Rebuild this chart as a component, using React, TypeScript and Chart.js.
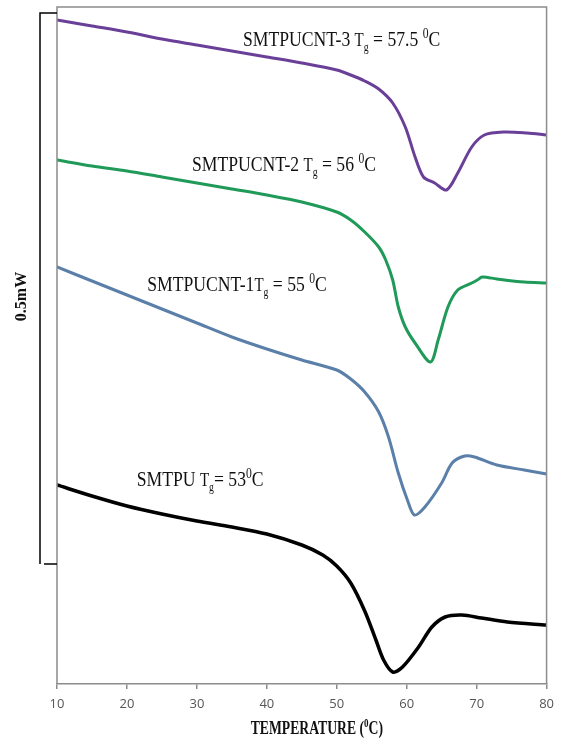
import React, { useEffect, useRef } from 'react';
import { Chart, registerables } from 'chart.js';

Chart.register(...registerables);

// Temperature axis (°C)
const tempMin = 10;
const tempMax = 80;
const tempStep = 10;

// Heat flow (arbitrary offset units, curves shifted vertically as in the figure)
const heatMin = 0;
const heatMax = 677;

// SMTPUCNT-3 (purple)
const cnt3Temp = [10, 15, 20, 25, 30, 35, 40, 45, 50, 52, 54, 56, 58.0, 59.8, 61.2, 62.4, 64.0, 65.7, 67.3, 69.3, 71.1, 73.9, 77.2, 80.0];
const cnt3Heat = [664, 658, 652, 645, 639, 633, 627, 621, 614, 609, 603, 595, 581, 557, 527, 507, 501, 494, 511, 537, 549, 552, 551, 549];

// SMTPUCNT-2 (green)
const cnt2Temp = [10, 15, 20, 25, 30, 35, 40, 45, 50, 52, 54, 56, 57.0, 58.0, 58.8, 59.8, 61.2, 63.4, 64.5, 65.9, 67.3, 69.3, 70.1, 70.8, 72.9, 76.8, 80.0];
const cnt2Heat = [524, 518, 513, 507, 501, 495, 489, 482, 472, 464, 452, 437, 424, 404, 377, 357, 341, 322, 344, 377, 394, 401, 404, 407, 405, 402, 401];

// SMTPUCNT-1 (blue)
const cnt1Temp = [10, 15, 20, 25, 30, 35, 40, 45, 50, 52, 54, 56, 57.4, 58.8, 60.1, 61.1, 62.6, 65.0, 66.5, 68.3, 69.7, 72.9, 76.8, 80.0];
const cnt1Heat = [417, 403, 389, 375, 361, 347, 335, 324, 314, 305, 292, 272, 247, 211, 184, 169, 177, 201, 221, 228, 227, 219, 214, 210];

// SMTPU (black)
const puTemp = [10, 15, 20, 25, 30, 35, 40, 45, 48, 50, 52, 54, 55.6, 56.7, 58.0, 59.4, 61.7, 63.6, 65.5, 67.9, 70.7, 74.4, 80.0];
const puHeat = [199, 188, 178, 170, 163, 157, 150, 139, 129, 118, 101, 73, 44, 24, 12, 17, 37, 57, 67, 69, 66, 62, 59];

// Scale bar: 0.5 mW span in heat-flow units
const scaleBarTop = 671;
const scaleBarBottom = 120;
const scaleBarLabel = '0.5mW';

const xTitleMain = 'TEMPERATURE (';
const xTitleSup = '0';
const xTitleEnd = 'C)';

type Part = { t: string; k?: 'sub' | 'sup' | 'tg' };

const labelParts: Part[][] = [
  [{ t: 'SMTPUCNT-3 ' }, { t: 'T', k: 'tg' }, { t: 'g', k: 'sub' }, { t: ' = 57.5 ' }, { t: '0', k: 'sup' }, { t: 'C' }],
  [{ t: 'SMTPUCNT-2 ' }, { t: 'T', k: 'tg' }, { t: 'g', k: 'sub' }, { t: ' = 56 ' }, { t: '0', k: 'sup' }, { t: 'C' }],
  [{ t: 'SMTPUCNT-1' }, { t: 'T', k: 'tg' }, { t: 'g', k: 'sub' }, { t: ' = 55 ' }, { t: '0', k: 'sup' }, { t: 'C' }],
  [{ t: 'SMTPU ' }, { t: 'T', k: 'tg' }, { t: 'g', k: 'sub' }, { t: '= 53' }, { t: '0', k: 'sup' }, { t: 'C' }],
];
// anchor (temperature, heat-flow baseline) for each label
const labelAnchors = [
  { x: 36.6, y: 638 },
  { x: 29.3, y: 513 },
  { x: 22.9, y: 393 },
  { x: 21.4, y: 198 },
];

function drawRich(ctx: CanvasRenderingContext2D, x: number, y: number, parts: Part[], base: number, squeeze: number, bold = false) {
  ctx.save();
  ctx.translate(x, y);
  ctx.scale(squeeze, 1);
  ctx.textBaseline = 'alphabetic';
  ctx.textAlign = 'left';
  ctx.fillStyle = '#111';
  let cx = 0;
  for (const p of parts) {
    let size = base;
    let dy = 0;
    if (p.k === 'sub') { size = base * 0.55; dy = base * 0.25; }
    else if (p.k === 'sup') { size = base * 0.66; dy = -base * 0.36; }
    else if (p.k === 'tg') { size = base * 0.85; }
    ctx.font = `${bold ? 'bold ' : ''}${size}px "Liberation Serif", "Times New Roman", serif`;
    ctx.fillText(p.t, cx, dy);
    cx += ctx.measureText(p.t).width;
  }
  ctx.restore();
}

function measureRich(ctx: CanvasRenderingContext2D, parts: Part[], base: number, squeeze: number, bold = false) {
  ctx.save();
  let w = 0;
  for (const p of parts) {
    let size = base;
    if (p.k === 'sub') size = base * 0.55;
    else if (p.k === 'sup') size = base * 0.66;
    else if (p.k === 'tg') size = base * 0.85;
    ctx.font = `${bold ? 'bold ' : ''}${size}px "Liberation Serif", "Times New Roman", serif`;
    w += ctx.measureText(p.t).width;
  }
  ctx.restore();
  return w * squeeze;
}

const decorPlugin = {
  id: 'decor',
  afterDraw(chart: any) {
    const ctx: CanvasRenderingContext2D = chart.ctx;
    const { left, right, top, bottom } = chart.chartArea;
    const xs = chart.scales.x;
    const ys = chart.scales.y;
    ctx.save();
    // frame
    ctx.strokeStyle = '#8c8c8c';
    ctx.lineWidth = 1.5;
    ctx.beginPath();
    ctx.moveTo(left, bottom);
    ctx.lineTo(left, top);
    ctx.lineTo(right, top);
    ctx.lineTo(right, bottom);
    ctx.stroke();

    // scale bar
    const barX = left - 17;
    const yTop = ys.getPixelForValue(scaleBarTop);
    const yBot = ys.getPixelForValue(scaleBarBottom);
    ctx.strokeStyle = '#000';
    ctx.lineWidth = 1.5;
    ctx.beginPath();
    ctx.moveTo(left, yTop);
    ctx.lineTo(barX, yTop);
    ctx.lineTo(barX, yBot);
    ctx.moveTo(barX + 4, yBot);
    ctx.lineTo(left, yBot);
    ctx.stroke();

    ctx.save();
    ctx.translate(22, (yTop + yBot) / 2 + 8);
    ctx.rotate(-Math.PI / 2);
    ctx.font = 'bold 16px "Liberation Serif", "Times New Roman", serif';
    ctx.fillStyle = '#111';
    ctx.textAlign = 'center';
    ctx.textBaseline = 'middle';
    ctx.fillText(scaleBarLabel, 0, 0);
    ctx.restore();

    // curve labels
    labelParts.forEach((parts, i) => {
      const a = labelAnchors[i];
      drawRich(ctx, xs.getPixelForValue(a.x), ys.getPixelForValue(a.y), parts, 21, 0.84);
    });

    // x-axis title
    const titleParts: Part[] = [{ t: xTitleMain }, { t: xTitleSup, k: 'sup' }, { t: xTitleEnd }];
    const tw = measureRich(ctx, titleParts, 19, 0.72, true);
    const cxm = (left + right) / 2 + 15;
    drawRich(ctx, cxm - tw / 2, bottom + 50, titleParts, 19, 0.72, true);
    ctx.restore();
  },
};

export default function App() {
  const ref = useRef<HTMLCanvasElement | null>(null);

  useEffect(() => {
    if (!ref.current) return;
    const mk = (t: number[], h: number[]) => t.map((x, i) => ({ x, y: h[i] }));
    const common = {
      pointRadius: 0,
      tension: 0.3,
      fill: false,
      borderCapStyle: 'round' as const,
      borderJoinStyle: 'round' as const,
    };
    const chart = new Chart(ref.current, {
      type: 'line',
      data: {
        datasets: [
          { ...common, label: 'SMTPUCNT-3', data: mk(cnt3Temp, cnt3Heat), borderColor: '#6a3f98', borderWidth: 3 },
          { ...common, label: 'SMTPUCNT-2', data: mk(cnt2Temp, cnt2Heat), borderColor: '#1f9a58', borderWidth: 3 },
          { ...common, label: 'SMTPUCNT-1', data: mk(cnt1Temp, cnt1Heat), borderColor: '#5a7fa8', borderWidth: 3 },
          { ...common, label: 'SMTPU', data: mk(puTemp, puHeat), borderColor: '#000000', borderWidth: 3.5 },
        ],
      },
      options: {
        animation: false,
        responsive: true,
        maintainAspectRatio: false,
        layout: { padding: { left: 57, right: 8, top: 7, bottom: 0 } },
        plugins: { legend: { display: false }, tooltip: { enabled: false } },
        scales: {
          x: {
            type: 'linear',
            min: tempMin,
            max: tempMax,
            afterFit: (s: any) => { s.height = 63; },
            ticks: {
              stepSize: tempStep,
              padding: 7,
              color: '#555',
              font: { family: '"Open Sans", "Liberation Sans", sans-serif', size: 13 },
            },
            grid: { drawOnChartArea: false, drawTicks: true, tickLength: 5, color: '#8c8c8c', lineWidth: 1.5 },
            border: { display: true, color: '#8c8c8c', width: 1.5 },
          },
          y: {
            type: 'linear',
            min: heatMin,
            max: heatMax,
            display: false,
          },
        },
      },
      plugins: [decorPlugin],
    });
    return () => chart.destroy();
  }, []);

  return (
    <div style={{ position: 'fixed', left: 0, top: 0, width: 561, height: 747, background: '#fff' }}>
      <canvas ref={ref} />
    </div>
  );
}
